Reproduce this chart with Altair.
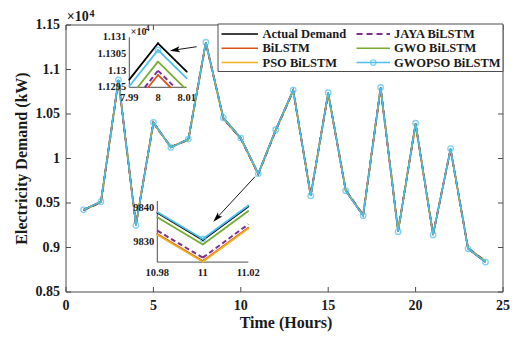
import math
import altair as alt
import pandas as pd

# ---------------- data ----------------
hours = list(range(1, 25))
series_names = ["Actual Demand", "BiLSTM", "PSO BiLSTM", "JAYA BiLSTM", "GWO BiLSTM", "GWOPSO BiLSTM"]

actual = [9425, 9515, 10885, 9248, 10408, 10123, 10219, 11308.2, 10458, 10230, 9830.5, 10324,
          10770, 9580, 10740, 9638, 9356, 10799, 9177, 10397, 9140, 10112, 8984, 8835]
bilstm = [9418, 9509, 10872, 9259, 10399, 10131, 10210, 11298.7, 10449, 10222, 9824.3, 10315,
          10761, 9591, 10729, 9646, 9365, 10788, 9188, 10386, 9151, 10103, 8993, 8846]
pso = [9417, 9508, 10870, 9260, 10398, 10132, 10209, 11294.0, 10447, 10221, 9824.1, 10314,
       10760, 9592, 10728, 9647, 9366, 10787, 9189, 10385, 9152, 10102, 8994, 8847]
jaya = [9419, 9510, 10874, 9257, 10400, 10130, 10211, 11300.0, 10450, 10223, 9825.3, 10316,
        10762, 9589, 10731, 9645, 9364, 10790, 9186, 10388, 9149, 10104, 8992, 8844]
gwo = [9422, 9513, 10880, 9252, 10404, 10126, 10215, 11302.7, 10454, 10228, 9829.2, 10320,
       10766, 9584, 10736, 9641, 9360, 10795, 9181, 10393, 9144, 10108, 8988, 8839]
gwopso = [9424, 9515, 10884, 9249, 10407, 10124, 10218, 11306.2, 10457, 10229, 9830.8, 10323,
          10769, 9581, 10739, 9639, 9357, 10798, 9178, 10396, 9141, 10111, 8985, 8836]
series_values = [actual, bilstm, pso, jaya, gwo, gwopso]

x_ticks = [0, 5, 10, 15, 20, 25]
y_ticks = [8500, 9000, 9500, 10000, 10500, 11000, 11500]
inset1_x_ticks = [7.99, 8.0, 8.01]
inset1_y_ticks = [11295, 11300, 11305, 11310]
inset2_x_ticks = [10.98, 11.0, 11.02]
inset2_y_ticks = [9830, 9840]

rows = []
for name, vals in zip(series_names, series_values):
    for h, v in zip(hours, vals):
        rows.append({"series": name, "hour": h, "value": v})
df = pd.DataFrame(rows)
one = pd.DataFrame({"k": [0]})

# ---------------- styles ----------------
FONT = "Liberation Serif"
TXT = "#1a1a1a"
BOX = "#4d4d4d"
W, H = 437, 267
styles = {
    "Actual Demand": dict(color="#000000", w=1.5, dash=None),
    "BiLSTM": dict(color="#D95319", w=1.5, dash=None),
    "PSO BiLSTM": dict(color="#EDB120", w=1.5, dash=None),
    "JAYA BiLSTM": dict(color="#7E2F8E", w=2.0, dash=[6, 4]),
    "GWO BiLSTM": dict(color="#77AC30", w=1.5, dash=None),
    "GWOPSO BiLSTM": dict(color="#4DBEEE", w=1.3, dash=None),
}


def text_at(t, x, y, size, align="left", baseline="alphabetic", angle=0):
    mk = dict(text=t, font=FONT, fontWeight="bold", fontSize=size, align=align, baseline=baseline, color=TXT)
    if angle:
        mk["angle"] = angle
    return alt.Chart(one).mark_text(**mk).encode(x=alt.value(x), y=alt.value(y))


def rule_at(x, x2, y, y2, color="#000000", width=1.0, dash=None):
    mk = dict(color=color, strokeWidth=width)
    if dash:
        mk["strokeDash"] = dash
    return alt.Chart(one).mark_rule(**mk).encode(
        x=alt.value(x), x2=alt.value(x2), y=alt.value(y), y2=alt.value(y2))


# ---------------- main view ----------------
xs_main = alt.Scale(domain=[0, 25], nice=False, zero=False)
ys_main = alt.Scale(domain=[8500, 11500], nice=False, zero=False)

main_layers = []
for name in series_names:
    st = styles[name]
    mk = dict(color=st["color"], strokeWidth=st["w"])
    if st["dash"]:
        mk["strokeDash"] = st["dash"]
    main_layers.append(
        alt.Chart(df).transform_filter(alt.datum.series == name).mark_line(**mk).encode(
            x=alt.X("hour:Q", scale=xs_main, axis=None),
            y=alt.Y("value:Q", scale=ys_main, axis=None),
        ))
main_layers.append(
    alt.Chart(df).transform_filter(alt.datum.series == "GWOPSO BiLSTM").mark_point(
        shape="circle", filled=False, size=30, strokeWidth=1.3, color="#4DBEEE").encode(
        x=alt.X("hour:Q", scale=xs_main, axis=None),
        y=alt.Y("value:Q", scale=ys_main, axis=None)))

xt = pd.DataFrame({"t": x_ticks})
yt = pd.DataFrame({"t": y_ticks})
main_layers += [
    # inward tick marks on all four sides
    alt.Chart(xt).mark_rule(color=BOX).encode(x=alt.X("t:Q", scale=xs_main, axis=None),
                                              y=alt.value(H), y2=alt.value(H - 5)),
    alt.Chart(xt).mark_rule(color=BOX).encode(x=alt.X("t:Q", scale=xs_main, axis=None),
                                              y=alt.value(0), y2=alt.value(5)),
    alt.Chart(yt).mark_rule(color=BOX).encode(y=alt.Y("t:Q", scale=ys_main, axis=None),
                                              x=alt.value(0), x2=alt.value(5)),
    alt.Chart(yt).mark_rule(color=BOX).encode(y=alt.Y("t:Q", scale=ys_main, axis=None),
                                              x=alt.value(W), x2=alt.value(W - 5)),
    alt.Chart(one).mark_rect(fill="#ffffff", fillOpacity=0, stroke=BOX, strokeWidth=1).encode(
        x=alt.value(0), x2=alt.value(W), y=alt.value(0), y2=alt.value(H)),
    # tick labels through the main scales
    alt.Chart(xt).mark_text(font=FONT, fontWeight="bold", fontSize=14, baseline="middle",
                            align="center", color=TXT).encode(
        x=alt.X("t:Q", scale=xs_main, axis=None), y=alt.value(H + 14),
        text=alt.Text("t:Q", format="d")),
    alt.Chart(yt).transform_calculate(lab="datum.t / 10000").mark_text(
        font=FONT, fontWeight="bold", fontSize=14, baseline="middle", align="right", color=TXT).encode(
        y=alt.Y("t:Q", scale=ys_main, axis=None), x=alt.value(-6),
        text=alt.Text("lab:Q", format="~g")),
    text_at("Time (Hours)", W / 2 + 1.5, H + 31, 16, align="center", baseline="middle"),
    text_at("Electricity Demand (kW)", -44, H / 2, 16, align="center", baseline="middle", angle=270),
    text_at("×10", 0.7, -4.3, 14),
    text_at("4", 23.5, -8.5, 10),
]
main = alt.layer(*main_layers)


# ---------------- insets (zoomed views of the same data, clipped to their window) ----------------
def inset(xdom, ydom, xrange_px, yrange_px, xvals, yvals, ylab_div, exp_label):
    xs = alt.Scale(domain=xdom, range=xrange_px, nice=False, zero=False)
    ys = alt.Scale(domain=ydom, range=yrange_px, nice=False, zero=False)
    x0, x1 = xdom
    y0, y1 = ydom
    L, R = xrange_px
    B, T = yrange_px
    layers = [
        rule_at(L, L, B, T, BOX, 1.0),
        rule_at(L, R, B, B, BOX, 1.0),
    ]
    for name in series_names:
        st = styles[name]
        mk = dict(color=st["color"], strokeWidth=1.8 if not st["dash"] else 2.0,
                  strokeCap="round" if not st["dash"] else "butt")
        if st["dash"]:
            mk["strokeDash"] = [5, 3]
        inside = f"(datum.value >= {y0} && datum.value <= {y1})"
        seg = alt.Chart(df).transform_filter(alt.datum.series == name).transform_window(
            nh="lead(hour)", nv="lead(value)", sort=[alt.SortField("hour")]
        ).transform_filter("isValid(datum.nh)").transform_calculate(
            dx="datum.nh - datum.hour",
            dv="datum.nv - datum.value",
        ).transform_calculate(
            ua=f"datum.dv != 0 ? min(({y0} - datum.value) / datum.dv, ({y1} - datum.value) / datum.dv) : ({inside} ? -1e9 : 1e9)",
            ub=f"datum.dv != 0 ? max(({y0} - datum.value) / datum.dv, ({y1} - datum.value) / datum.dv) : ({inside} ? 1e9 : -1e9)",
        ).transform_calculate(
            t0=f"max(0, ({x0} - datum.hour) / datum.dx, datum.ua)",
            t1=f"min(1, ({x1} - datum.hour) / datum.dx, datum.ub)",
        ).transform_filter("datum.t0 < datum.t1").transform_calculate(
            xs="datum.hour + datum.t0 * datum.dx",
            xe="datum.hour + datum.t1 * datum.dx",
            ys="datum.value + datum.t0 * datum.dv",
            ye="datum.value + datum.t1 * datum.dv",
        ).mark_rule(**mk).encode(
            x=alt.X("xs:Q", scale=xs, axis=None), x2="xe:Q",
            y=alt.Y("ys:Q", scale=ys, axis=None), y2="ye:Q",
        )
        layers.append(seg)
    layers.append(
        alt.Chart(df).transform_filter(alt.datum.series == "GWOPSO BiLSTM").transform_filter(
            f"datum.hour >= {x0} && datum.hour <= {x1} && datum.value >= {y0} && datum.value <= {y1}"
        ).mark_point(shape="circle", filled=False, size=30, strokeWidth=1.3, color="#4DBEEE").encode(
            x=alt.X("hour:Q", scale=xs, axis=None), y=alt.Y("value:Q", scale=ys, axis=None)))
    layers.append(
        alt.Chart(pd.DataFrame({"t": xvals})).mark_text(
            font=FONT, fontWeight="bold", fontSize=10.5, baseline="middle", align="center", color=TXT
        ).encode(x=alt.X("t:Q", scale=xs, axis=None), y=alt.value(B + 11),
                 text=alt.Text("t:Q", format="~g")))
    layers.append(
        alt.Chart(pd.DataFrame({"t": yvals})).transform_calculate(lab=f"datum.t / {ylab_div}").mark_text(
            font=FONT, fontWeight="bold", fontSize=10.5, baseline="middle", align="right", color=TXT
        ).encode(y=alt.Y("t:Q", scale=ys, axis=None), x=alt.value(L - 3),
                 text=alt.Text("lab:Q", format="~g")))
    if exp_label:
        layers.append(text_at("×10", L + 1.5, T - 2.5, 10))
        layers.append(text_at("4", L + 16.5, T - 6.5, 7.5))
    return alt.layer(*layers)


inset1 = inset([7.99, 8.01], [11295, 11310], [63.3, 120.7], [62.3, 12.3],
               inset1_x_ticks, inset1_y_ticks, 10000, True)
inset2 = inset([10.98, 11.02], [9824, 9842], [91.3, 182.3], [237.1, 175.9],
               inset2_x_ticks, inset2_y_ticks, 1, False)

# ---------------- legend and arrows ----------------
annot = [alt.Chart(one).mark_rect(fill="#ffffff", stroke=BOX, strokeWidth=1).encode(
    x=alt.value(152), x2=alt.value(437), y=alt.value(-1), y2=alt.value(46.5))]
col_line = [(155.5, 192.0, 196.5), (290.5, 324.0, 328.0)]
row_y = [9.0, 23.3, 37.6]
for idx, name in enumerate(series_names):
    c, r = idx // 3, idx % 3
    x0, x1, xtx = col_line[c]
    st = styles[name]
    lw = 1.5 if name != "JAYA BiLSTM" else 2.0
    annot.append(rule_at(x0, x1, row_y[r], row_y[r], st["color"], lw, st["dash"]))
    if name == "GWOPSO BiLSTM":
        annot.append(alt.Chart(one).mark_point(shape="circle", filled=False, size=30, strokeWidth=1.3,
                                               color=st["color"]).encode(
            x=alt.value((x0 + x1) / 2), y=alt.value(row_y[r])))
    annot.append(text_at(name, xtx, row_y[r], 12.5, baseline="middle"))

ARROW = "M 1 0 L -1 -0.6 L -0.55 0 L -1 0.6 Z"


def arrow(tail, head):
    dx, dy = head[0] - tail[0], head[1] - tail[1]
    ang = math.degrees(math.atan2(dy, dx)) % 360
    n = math.hypot(dx, dy)
    ux, uy = dx / n, dy / n
    cx, cy = head[0] - 5 * ux, head[1] - 5 * uy
    line = rule_at(tail[0], cx, tail[1], cy, "#000000", 0.9)
    hd = alt.Chart(one).mark_point(shape=ARROW, filled=True, size=100, angle=ang, color="#000000",
                                   opacity=1).encode(x=alt.value(cx), y=alt.value(cy))
    return [line, hd]


annot += arrow((130.7, 21.7), (104.0, 25.7)) + arrow((189.0, 151.7), (147.3, 196.7))
annot_layer = alt.layer(*annot)

chart = alt.layer(main, inset1, inset2, annot_layer).resolve_scale(
    x="independent", y="independent"
).properties(
    width=W, height=H,
    autosize=alt.AutoSizeParams(type="none"),
    padding={"left": 58, "top": 17, "right": 7, "bottom": 40},
).configure_view(stroke="transparent")

chart.save("out.html", embed_options={"renderer": "svg", "actions": False})
